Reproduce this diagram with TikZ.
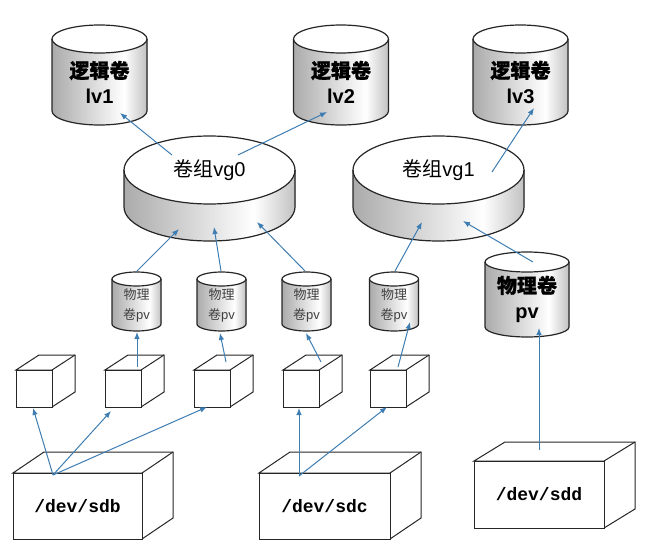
\documentclass[tikz,border=0pt]{standalone}
\usepackage{fontspec}
\setmainfont{Liberation Sans}
\newfontfamily\cjk{Noto Sans CJK SC}
\newfontfamily\cjkb{Noto Sans CJK SC}[FakeBold=1]
\newfontfamily\devfont{Liberation Mono}
\usetikzlibrary{arrows.meta, calc}
\definecolor{linkcolor}{RGB}{62,125,178}
\pgfdeclarehorizontalshading{drumshade}{100bp}{color(0bp)=(black!33); color(25bp)=(black!33); color(63bp)=(white); color(75bp)=(black!24); color(100bp)=(black!24)}

% cylinder: name, cx, top centre y, rx, body height, ry, label y, label style, label
\newcommand{\drum}[9]{%
  \fill[shading=drumshade] (#2-#4,#3) -- ++(0,#5) arc[start angle=180, end angle=0, x radius=#4, y radius=#6] -- ++(0,-#5) arc[start angle=0, end angle=180, x radius=#4, y radius=#6] -- cycle;
  \draw[drumline, fill=white] (#2,#3) ellipse[x radius=#4, y radius=#6];
  \draw[drumline] (#2-#4,#3) -- ++(0,#5) arc[start angle=180, end angle=0, x radius=#4, y radius=#6] -- ++(0,-#5);
  \node[inner sep=0, minimum width=2*#4pt, minimum height=#5pt+2*#6pt] (#1) at (#2,#3+#5/2) {};
  \node[#8] (#1-t) at (#2,#7) {#9};
}
% box: name, x, y, width, height, depth x, depth y, label
\newcommand{\crate}[8]{%
  \filldraw[boxline] (#2,#3) -- ++(#6,-#7) -- ++(#4,0) -- ++(0,#5) -- ++(-#6,#7) -- ++(0,-#5) -- cycle;
  \draw[boxline] (#2+#4,#3) -- ++(#6,-#7);
  \node[boxline, draw, inner sep=0, minimum width=#4pt, minimum height=#5pt, font=\devfont\bfseries\fontsize{18}{20}\selectfont] (#1) at (#2+#4/2,#3+#5/2) {#8};
}

\begin{document}
\begin{tikzpicture}[
    x=1pt, y=-1pt,
    drumline/.style={draw=black!85, line width=1.2pt},
    boxline/.style={draw=black!85, line width=1pt, fill=white},
    lvtext/.style={inner sep=0, align=center, font=\bfseries\fontsize{20}{25}\selectfont},
    vgtext/.style={inner sep=0, font=\fontsize{20}{24}\selectfont},
    pvtext/.style={inner sep=0, align=center, text=black!75, font=\fontsize{13}{20}\selectfont},
    link/.style={draw=linkcolor, line width=1pt, -{Latex[length=7pt, width=5.5pt]}}
]
    \useasboundingbox (0,0) rectangle (645,554);

    % logical volumes
    \drum{lv1}{99.5}{39}{47.5}{72}{14}{82}{lvtext}{{\cjkb 逻辑卷}\\lv1}
    \drum{lv2}{341}{39}{47.5}{72}{14}{82}{lvtext}{{\cjkb 逻辑卷}\\lv2}
    \drum{lv3}{520.5}{39}{47.5}{72}{14}{82}{lvtext}{{\cjkb 逻辑卷}\\lv3}

    % volume groups
    \drum{vg0}{209.5}{170}{85.5}{37}{34}{170}{vgtext}{{\cjk 卷组}vg0}
    \drum{vg1}{438.5}{170}{85.5}{37}{34}{170}{vgtext}{{\cjk 卷组}vg1}

    % physical volumes
    \drum{pv1}{136.5}{279}{24.5}{45}{7}{305}{pvtext}{{\cjk 物理}\\{\cjk 卷}pv}
    \drum{pv2}{221.5}{279}{24.5}{45}{7}{305}{pvtext}{{\cjk 物理}\\{\cjk 卷}pv}
    \drum{pv3}{306.5}{279}{24.5}{45}{7}{305}{pvtext}{{\cjk 物理}\\{\cjk 卷}pv}
    \drum{pv4}{394}{279}{24.5}{45}{7}{305}{pvtext}{{\cjk 物理}\\{\cjk 卷}pv}
    \drum{bigpv}{527}{262}{42}{65}{10}{299}{lvtext}{{\cjkb 物理卷}\\pv}

    % partitions
    \crate{cube1}{16}{370}{36}{37}{23}{15}{}
    \crate{cube2}{105}{370}{36}{37}{23}{15}{}
    \crate{cube3}{194}{370}{36}{37}{23}{15}{}
    \crate{cube4}{283}{370}{36}{37}{23}{15}{}
    \crate{cube5}{370}{370}{36}{37}{23}{15}{}

    % disks
    \crate{sdb}{13}{473}{129}{66}{31}{21}{/dev/sdb}
    \crate{sdc}{259}{473}{131}{66}{31}{21}{/dev/sdc}
    \crate{sdd}{474}{461}{130}{67}{31}{19}{/dev/sdd}

    % connections
    \draw[link] ([shift={(-37.5,-33.5)}]vg0.center) -- ([shift={(20.5,38)}]lv1.center);
    \draw[link] ([shift={(28.5,-33.5)}]vg0.center) -- ([shift={(-14,37)}]lv2.center);
    \draw[link] ([shift={(53.5,-16.5)}]vg1.center) -- ([shift={(13.5,33)}]lv3.center);
    \draw[link] ([shift={(0.5,-30.5)}]pv1.center) -- ([shift={(-30.5,40.5)}]vg0.center);
    \draw[link] ([shift={(-0.5,-30.5)}]pv2.center) -- ([shift={(4.5,38.5)}]vg0.center);
    \draw[link] ([shift={(-1.5,-30.5)}]pv3.center) -- ([shift={(47.5,33.5)}]vg0.center);
    \draw[link] ([shift={(1,-30.5)}]pv4.center) -- ([shift={(-16.5,33.5)}]vg1.center);
    \draw[link] ([shift={(6,-32.5)}]bigpv.center) -- ([shift={(24.5,32.5)}]vg1.center);
    \draw[link] ([shift={(14,-21.5)}]cube2.center) -- ([shift={(0.5,30.5)}]pv1.center);
    \draw[link] ([shift={(14,-26.5)}]cube3.center) -- ([shift={(-1.5,31.5)}]pv2.center);
    \draw[link] ([shift={(20,-26.5)}]cube4.center) -- ([shift={(-0.5,31.5)}]pv3.center);
    \draw[link] ([shift={(10,-21.5)}]cube5.center) -- ([shift={(16,20.5)}]pv4.center);
    \draw[link] ([shift={(-24.5,-31)}]sdb.center) -- ([shift={(-1,19.5)}]cube1.center);
    \draw[link] ([shift={(-24.5,-31)}]sdb.center) -- ([shift={(-12,22.5)}]cube2.center);
    \draw[link] ([shift={(-24.5,-31)}]sdb.center) -- ([shift={(-5,18.5)}]cube3.center);
    \draw[link] ([shift={(-25.5,-30)}]sdc.center) -- ([shift={(-2,19.5)}]cube4.center);
    \draw[link] ([shift={(-25.5,-30)}]sdc.center) -- ([shift={(-1,18.5)}]cube5.center);
    \draw[link] ([shift={(0,-44.5)}]sdd.center) -- ([shift={(12,33.5)}]bigpv.center);
\end{tikzpicture}
\end{document}
